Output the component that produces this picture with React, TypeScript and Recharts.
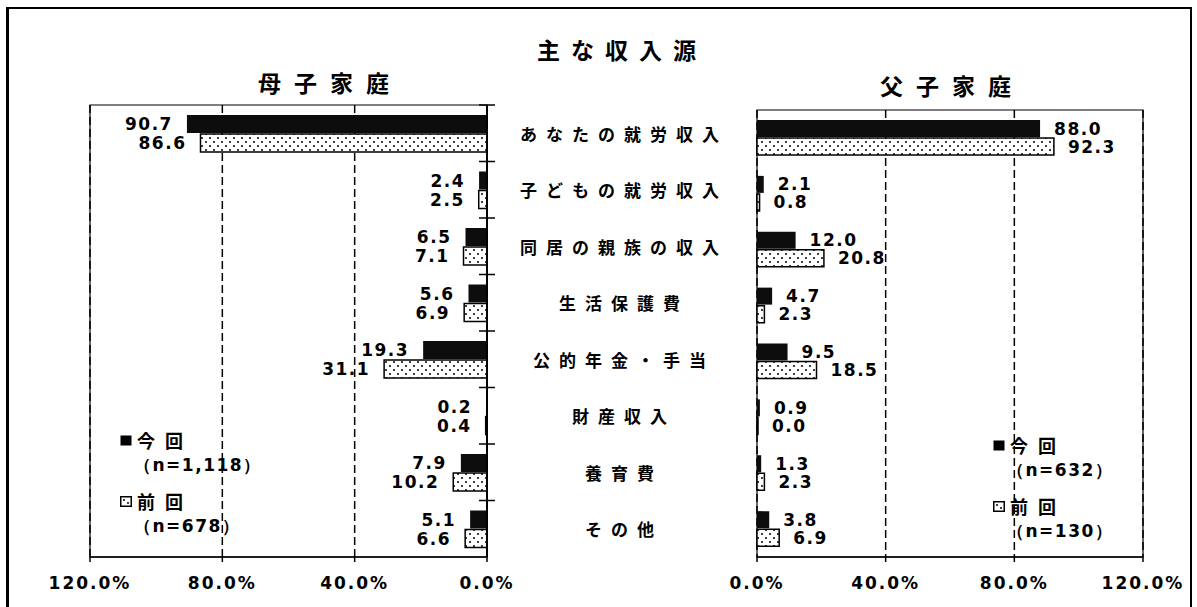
import { BarChart, Bar, XAxis, YAxis, CartesianGrid, ReferenceArea, LabelList } from "recharts"

const categories = [
  "あなたの就労収入",
  "子どもの就労収入",
  "同居の親族の収入",
  "生活保護費",
  "公的年金・手当",
  "財産収入",
  "養育費",
  "その他",
]
const motherNow = [90.7, 2.4, 6.5, 5.6, 19.3, 0.2, 7.9, 5.1]
const motherPrev = [86.6, 2.5, 7.1, 6.9, 31.1, 0.4, 10.2, 6.6]
const fatherNow = [88.0, 2.1, 12.0, 4.7, 9.5, 0.9, 1.3, 3.8]
const fatherPrev = [92.3, 0.8, 20.8, 2.3, 18.5, 0.0, 2.3, 6.9]
const axisTicks = [0, 40, 80, 120]
const seriesNames = ["今回", "前回"]
const motherCounts = ["（n=1,118）", "（n=678）"]
const fatherCounts = ["（n=632）", "（n=130）"]

const motherData = categories.map((cat, i) => ({ cat, now: motherNow[i], prev: motherPrev[i] }))
const fatherData = categories.map((cat, i) => ({ cat, now: fatherNow[i], prev: fatherPrev[i] }))

const jp = '"Noto Sans CJK JP", "Noto Sans", sans-serif'
const num = '"DejaVu Sans", Verdana, sans-serif'

const pct = (v: number) => `${v.toFixed(1)}%`

function Dots({ id }: { id: string }) {
  return (
    <defs>
      <pattern id={id} width="8" height="8" patternUnits="userSpaceOnUse">
        <rect width="8" height="8" fill="#fff" />
        <circle cx="2" cy="2" r="1" fill="#000" />
        <circle cx="6" cy="6" r="1" fill="#000" />
      </pattern>
    </defs>
  )
}

function CenterTick(props: any) {
  const { x, y, payload } = props
  const off = payload?.offset ?? 28
  return (
    <g>
      <line x1={x - 8} x2={x + 8} y1={y - off} y2={y - off} stroke="#000" strokeWidth={1.5} />
      <text
        x={x + 137}
        y={y}
        textAnchor="middle"
        dominantBaseline="central"
        fontFamily={jp}
        fontWeight={700}
        fontSize={17}
        letterSpacing={9}
        fill="#000"
      >
        {payload.value}
      </text>
    </g>
  )
}

function EdgeTick(props: any) {
  const { x, y, payload } = props
  const off = payload?.offset ?? 28
  return <line x1={x - 8} x2={x + 8} y1={y - off} y2={y - off} stroke="#000" strokeWidth={1.5} />
}

function leftLabel(props: any) {
  const { x, y, width, height, value } = props
  const left = Math.min(x, x + width)
  return (
    <text x={left - 14} y={y + height / 2} textAnchor="end" dominantBaseline="central"
      fontFamily={num} fontWeight={700} fontSize={17} letterSpacing={1.5} fill="#000">
      {Number(value).toFixed(1)}
    </text>
  )
}

function rightLabel(props: any) {
  const { x, y, width, height, value } = props
  const right = Math.max(x, x + width)
  return (
    <text x={right + 14} y={y + height / 2} textAnchor="start" dominantBaseline="central"
      fontFamily={num} fontWeight={700} fontSize={17} letterSpacing={1.5} fill="#000">
      {Number(value).toFixed(1)}
    </text>
  )
}

const tickStyle = { fontFamily: num, fontWeight: 700, fontSize: 17, fill: "#000", letterSpacing: 2 }

function LegendBlock({ left, top, counts }: { left: number; top: number; counts: string[] }) {
  return (
    <div style={{ position: "absolute", left, top, fontFamily: jp, fontWeight: 700, fontSize: 18, lineHeight: "25px" }}>
      {seriesNames.map((name, i) => (
        <div key={name} style={{ marginBottom: i === 0 ? 11 : 0 }}>
          <div style={{ display: "flex", alignItems: "center" }}>
            <svg width="12" height="11" style={{ marginRight: 5 }}>
              {i === 0 ? (
                <rect x="0.5" y="0.5" width="11" height="10" fill="#000" />
              ) : (
                <>
                  <rect x="0.75" y="0.75" width="10.5" height="9.5" fill="#fff" stroke="#000" strokeWidth={1.5} />
                  <circle cx="4" cy="4" r="1" fill="#000" />
                  <circle cx="8" cy="7" r="1" fill="#000" />
                </>
              )}
            </svg>
            <span style={{ letterSpacing: 10 }}>{name}</span>
          </div>
          <div style={{ paddingLeft: 14, fontFamily: num, fontSize: 17, letterSpacing: 1.5 }}>{counts[i]}</div>
        </div>
      ))}
    </div>
  )
}

export default function App() {
  return (
    <div style={{ position: "fixed", left: 0, top: 0, width: 1197, height: 607, background: "#fff", overflow: "hidden" }}>
      <div style={{ position: "absolute", left: 6, top: 7, width: 1181, height: 620, borderLeft: "3px solid #000", borderTop: "2px solid #000", borderRight: "2px solid #000" }} />
      <div style={{ position: "absolute", left: 0, width: 1244, top: 32, textAlign: "center", fontFamily: jp, fontWeight: 700, fontSize: 23, letterSpacing: 11 }}>
        主な収入源
      </div>
      <div style={{ position: "absolute", left: 0, width: 660, top: 65, textAlign: "center", fontFamily: jp, fontWeight: 700, fontSize: 23, letterSpacing: 13 }}>
        母子家庭
      </div>
      <div style={{ position: "absolute", left: 0, width: 1904, top: 68, textAlign: "center", fontFamily: jp, fontWeight: 700, fontSize: 23, letterSpacing: 13 }}>
        父子家庭
      </div>

      <div style={{ position: "absolute", left: 0, top: 0 }}>
        <BarChart
          width={757}
          height={607}
          data={motherData}
          layout="vertical"
          margin={{ top: 105, right: 0, left: 90, bottom: 20 }}
          barSize={18}
          barGap={1}
        >
          <Dots id="dotsL" />
          <CartesianGrid horizontal={false} stroke="#000" strokeWidth={1.5} strokeDasharray="8 4" />
          <XAxis
            type="number"
            domain={[0, 120]}
            ticks={axisTicks}
            reversed
            tickFormatter={pct}
            tick={tickStyle}
            height={30}
            tickSize={5}
            tickMargin={15}
            stroke="#000"
            strokeWidth={1.5}
            interval={0}
          />
          <YAxis
            type="category"
            dataKey="cat"
            orientation="right"
            width={270}
            tickLine={false}
            tickSize={0}
            tickMargin={0}
            tick={<CenterTick />}
            stroke="#000"
            strokeWidth={2}
            interval={0}
          />
          <ReferenceArea x1={0} x2={120} fill="none" stroke="#000" strokeWidth={1.2} fillOpacity={0} />
          <Bar dataKey="now" fill="#0d0d0d" minPointSize={1} isAnimationActive={false}>
            <LabelList dataKey="now" content={leftLabel} />
          </Bar>
          <Bar dataKey="prev" fill="url(#dotsL)" stroke="#000" strokeWidth={1.5} minPointSize={1} isAnimationActive={false}>
            <LabelList dataKey="prev" content={leftLabel} />
          </Bar>
        </BarChart>
      </div>

      <div style={{ position: "absolute", left: 700, top: 0 }}>
        <BarChart
          width={497}
          height={607}
          data={fatherData}
          layout="vertical"
          margin={{ top: 110, right: 54, left: 57, bottom: 20 }}
          barSize={17}
          barGap={1}
        >
          <Dots id="dotsR" />
          <CartesianGrid horizontal={false} stroke="#000" strokeWidth={1.5} strokeDasharray="8 4" />
          <XAxis
            type="number"
            domain={[0, 120]}
            ticks={axisTicks}
            tickFormatter={pct}
            tick={tickStyle}
            height={30}
            tickSize={5}
            tickMargin={15}
            stroke="#000"
            strokeWidth={1.5}
            interval={0}
          />
          <YAxis
            type="category"
            dataKey="cat"
            width={0}
            tickLine={false}
            tickSize={0}
            tickMargin={0}
            tick={<EdgeTick />}
            stroke="#000"
            strokeWidth={2}
            interval={0}
          />
          <ReferenceArea x1={0} x2={120} fill="none" stroke="#000" strokeWidth={1.2} fillOpacity={0} />
          <Bar dataKey="now" fill="#0d0d0d" minPointSize={1} isAnimationActive={false}>
            <LabelList dataKey="now" content={rightLabel} />
          </Bar>
          <Bar dataKey="prev" fill="url(#dotsR)" stroke="#000" strokeWidth={1.5} minPointSize={1} isAnimationActive={false}>
            <LabelList dataKey="prev" content={rightLabel} />
          </Bar>
        </BarChart>
      </div>

      <LegendBlock left={120} top={428} counts={motherCounts} />
      <LegendBlock left={993} top={433} counts={fatherCounts} />
    </div>
  )
}
